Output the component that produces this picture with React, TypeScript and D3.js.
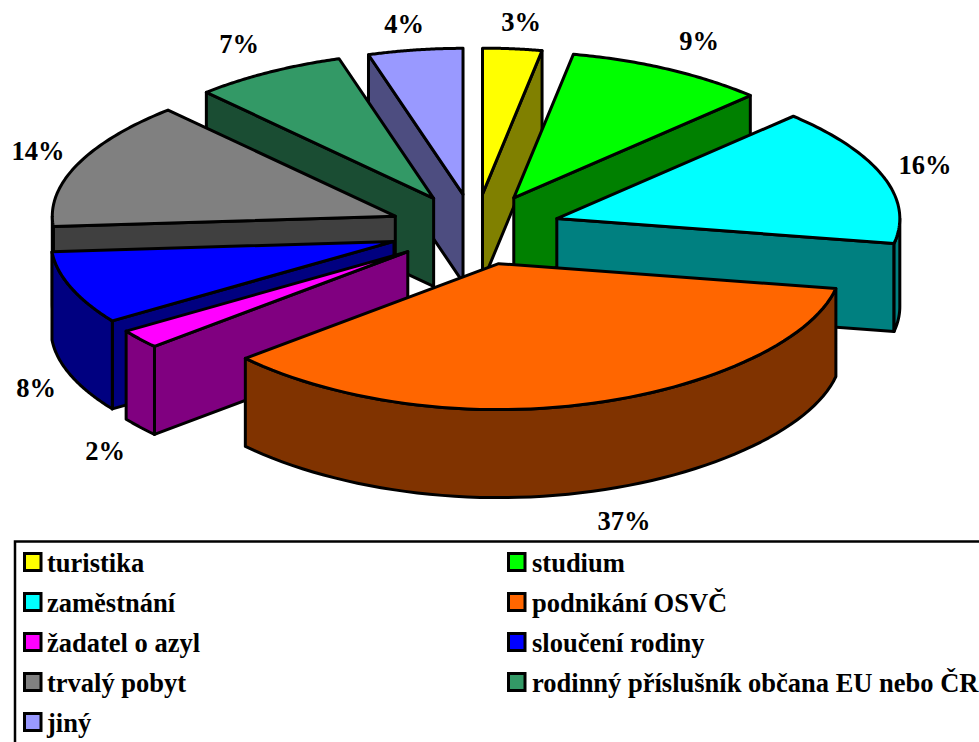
import React from "react";
import * as d3 from "d3";

// Share of each residence purpose, in percent.
const categories = [
  "turistika",
  "studium",
  "zaměstnání",
  "podnikání OSVČ",
  "žadatel o azyl",
  "sloučení rodiny",
  "trvalý pobyt",
  "rodinný příslušník občana EU nebo ČR",
  "jiný",
];
const shares = [3, 9, 16, 37, 2, 8, 14, 7, 4];
const topColors = ["#FFFF00", "#00FF00", "#00FFFF", "#FF6600", "#FF00FF", "#0000FF", "#808080", "#339966", "#9999FF"];
const sideColors = ["#808000", "#008000", "#008080", "#803300", "#800080", "#000080", "#404040", "#1A4D33", "#4D4D80"];
const labelAnchors: [number, number][] = [
  [521, 31], [699, 50], [925, 174], [624, 530], [105, 460], [36, 397], [38, 160], [239, 53], [404, 33],
];
// Back-to-front order for painting the exploded slices.
const paintOrder = [0, 8, 7, 1, 6, 2, 5, 4, 3];
// Oblique view of the pie plane: nominal degrees to drawn degrees.
const viewDomain = [0, 10.8, 43.2, 100.8, 234, 270, 320.4, 345.6, 360];
const viewRange = [0, 10, 43.6, 100.5, 227.6, 265.6, 318.5, 344, 360];

const W = 979;
const H = 742;
const CX = 475;
const CY = 229.5;
const RX = 343;
const RY = 146;
const RIM_FLATTEN = 0.068;
const EXPLODE_X = 86;
const EXPLODE_Y = 35.5;
const DEPTH = 88;
const STROKE = 3;

const viewAngle = d3.scaleLinear().domain(viewDomain).range(viewRange);
const rad = (deg: number) => (deg * Math.PI) / 180;
const deg = (r: number) => (r * 180) / Math.PI;

type Pt = [number, number];

function buildSlice(startNominal: number, endNominal: number) {
  const start = viewAngle(startNominal);
  const end = viewAngle(endNominal);
  const mid = viewAngle((startNominal + endNominal) / 2);
  const apex: Pt = [CX + EXPLODE_X * Math.sin(rad(mid)), CY - EXPLODE_Y * Math.cos(rad(mid))];
  const rim = (a: number): Pt => {
    const sin = Math.sin(rad(a));
    return [apex[0] + RX * sin, apex[1] - RY * Math.cos(rad(a)) * (1 - RIM_FLATTEN * sin * sin)];
  };
  const arcPoints = (a: number, b: number): Pt[] =>
    d3.range(0, 61).map((i) => rim(a + ((b - a) * i) / 60));
  return { start, end, apex, rim, arcPoints };
}

const down = (p: Pt): Pt => [p[0], p[1] + DEPTH];
const line = d3.line<Pt>();
const closed = (pts: Pt[]) => `${line(pts)}Z`;

const pieAngles = d3.pie<number>().sort(null)(shares);

function Slice({ index }: { index: number }) {
  const datum = pieAngles[index];
  const s = buildSlice(deg(datum.startAngle), deg(datum.endAngle));
  const faces: string[] = [];
  // Radial faces turned towards the viewer.
  if (Math.sin(rad(s.start)) < -0.001) {
    const p = s.rim(s.start);
    faces.push(closed([s.apex, p, down(p), down(s.apex)]));
  }
  if (Math.sin(rad(s.end)) > 0.001) {
    const p = s.rim(s.end);
    faces.push(closed([s.apex, p, down(p), down(s.apex)]));
  }
  // Outer wall along the front half of the rim.
  const wallFrom = Math.max(s.start, 90);
  const wallTo = Math.min(s.end, 270);
  if (wallTo > wallFrom) {
    const arc = s.arcPoints(wallFrom, wallTo);
    faces.push(closed([...arc, ...arc.map(down).reverse()]));
  }
  const top = closed([s.apex, ...s.arcPoints(s.start, s.end)]);
  return (
    <g stroke="#000" strokeWidth={STROKE} strokeLinejoin="round">
      {faces.map((d, i) => (
        <path key={i} d={d} fill={sideColors[index]} />
      ))}
      <path d={top} fill={topColors[index]} />
    </g>
  );
}

const legendRows = [562.5, 602.5, 642.5, 682.5, 722.5];
const legendColumns = [23, 507];

export default function App() {
  return (
    <svg
      width={W}
      height={H}
      viewBox={`0 0 ${W} ${H}`}
      style={{ position: "absolute", left: 0, top: 0, display: "block", background: "#fff" }}
      fontFamily="'Liberation Serif', serif"
      fontWeight="bold"
      fontSize={26.5}
    >
      {paintOrder.map((i) => (
        <Slice key={i} index={i} />
      ))}
      {shares.map((v, i) => (
        <text key={i} x={labelAnchors[i][0]} y={labelAnchors[i][1]} textAnchor="middle" fill="#000">
          {v}%
        </text>
      ))}
      <rect x={15} y={541.5} width={1000} height={240} fill="none" stroke="#000" strokeWidth={2.5} />
      {categories.map((name, i) => {
        const column = i === 8 ? 0 : i % 2;
        const row = legendRows[Math.floor(i / 2)];
        const x = legendColumns[column];
        return (
          <g key={name}>
            <rect x={x + 1.5} y={row - 9} width={16.5} height={17} fill={topColors[i]} stroke="#000" strokeWidth={3} />
            <text x={x + (column ? 25 : 24)} y={row + 9.5} fill="#000">
              {name}
            </text>
          </g>
        );
      })}
    </svg>
  );
}
